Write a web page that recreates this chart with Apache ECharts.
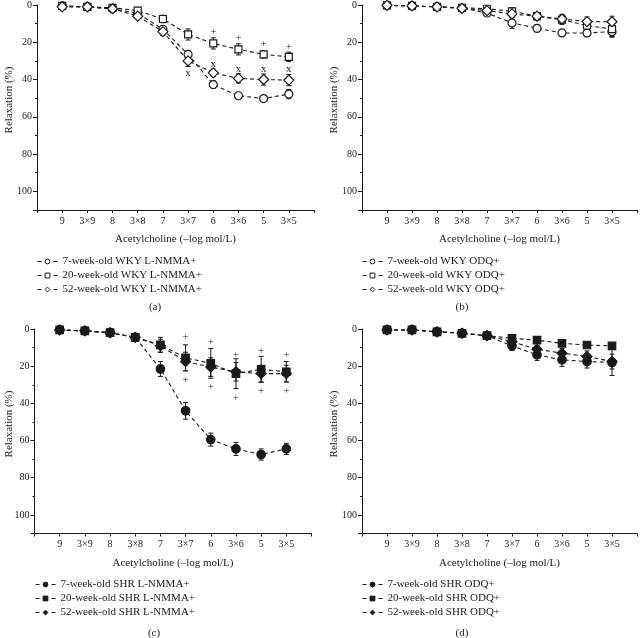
<!DOCTYPE html>
<html>
<head>
<meta charset="utf-8">
<script src="https://cdn.jsdelivr.net/npm/echarts@6/dist/echarts.min.js"></script>
<style>html,body{margin:0;padding:0;background:#fff}#c{width:640px;height:638px}</style>
</head>
<body>
<div id="c"></div>
<script>
// ---- data ----
const xTickLabels = ['9', '3\u00d79', '8', '3\u00d78', '7', '3\u00d77', '6', '3\u00d76', '5', '3\u00d75'];
const xName = 'Acetylcholine (\u2013log mol/L)';
const yName = 'Relaxation (%)';

// (a) WKY L-NMMA+
const wky7L = [0.5, 1, 2, 4.5, 13, 26.5, 42.7, 48.7, 50.2, 47.8];
const wky7LErr = [0.5, 0.5, 0.5, 1, 1.5, 2, 2, 1.5, 1.5, 2.5];
const wky20L = [0.5, 1, 1.5, 3, 7.5, 15.8, 20.6, 23.8, 26.5, 27.8];
const wky20LErr = [0.5, 0.5, 0.5, 1, 2, 3, 3, 3, 2, 2.5];
const wky52L = [1, 1, 2, 6, 14.3, 30, 36.4, 39.4, 40, 40.3];
const wky52LErr = [0.5, 0.5, 0.5, 1, 2, 3, 2, 2.5, 3, 3];
const aPlusX = [7, 8, 9, 10];
const aPlusY = [14.7, 18, 21, 22.4];
const aCrossX = [6, 7, 8, 9, 10];
const aCrossY = [36.4, 31.7, 34.4, 34.4, 34.4];

// (b) WKY ODQ+
const wky7O = [0.2, 0.5, 1, 1.6, 4.3, 9.6, 12.5, 15, 15, 14.3];
const wky7OErr = [0.5, 0.5, 0.5, 1, 1.5, 3, 2, 1.5, 2, 3];
const wky20O = [0.2, 0.5, 1, 1.5, 2, 3.4, 6, 7.9, 11, 12.9];
const wky20OErr = [0.5, 0.5, 0.5, 1, 1, 2, 2, 2.5, 2.5, 4];
const wky52O = [0.2, 0.5, 1, 1.8, 3, 4.8, 6, 7.5, 8.9, 9];
const wky52OErr = [0.5, 0.5, 0.5, 1, 1, 2, 2, 2.5, 2.5, 3];

// (c) SHR L-NMMA+
const shr7L = [0.5, 1, 2, 4.5, 21.5, 44, 59.5, 64.5, 67.5, 64.5];
const shr7LErr = [0.5, 0.5, 0.5, 1, 4, 4.5, 3.5, 3.5, 3, 3];
const shr20L = [0.5, 1, 2, 4.5, 8.5, 15.5, 18.5, 24, 21.7, 23];
const shr20LErr = [0.5, 0.5, 0.5, 1, 4, 7, 8, 8, 7, 5.5];
const shr52L = [0.5, 1, 2, 4.5, 9, 17.5, 20.5, 23, 24, 24];
const shr52LErr = [0.5, 0.5, 1, 1, 3.5, 5, 5, 5, 4.5, 4.5];
const cPlusX = [6, 7, 8, 9, 10, 6, 7, 8, 9, 10];
const cPlusY = [4.5, 7.2, 14, 11.8, 14, 27.4, 31, 37, 33.3, 33.3];

// (d) SHR ODQ+
const shr7O = [0.5, 0.5, 1.5, 2.3, 3.6, 9.1, 13.9, 16.6, 17.5, 18];
const shr7OErr = [0.5, 0.5, 0.5, 1, 1, 2.5, 3, 3.5, 3.5, 7];
const shr20O = [0.5, 0.5, 1.5, 2.3, 3.6, 5, 6, 7.7, 8.6, 9.1];
const shr20OErr = [0.5, 0.5, 0.5, 0.5, 1, 1, 1, 1, 1, 1];
const shr52O = [0.5, 0.5, 1.5, 2.3, 3.6, 6.8, 10.9, 13, 14.8, 17.5];
const shr52OErr = [0.5, 0.5, 0.5, 1, 1, 2, 2, 2.5, 3, 4];

// ---- layout / style ----
const FONT = 'Liberation Serif';
const INK = '#1a1a1a';
const grids = [
  {left: 37, top: 5, width: 277, height: 205},
  {left: 362, top: 5, width: 277, height: 205},
  {left: 34.5, top: 329, width: 277, height: 204.5},
  {left: 362, top: 329, width: 277, height: 204.5}
];

function xAxisFor(i) {
  return {
    type: 'value', gridIndex: i, min: 0, max: 11, interval: 1,
    name: xName, nameLocation: 'middle', nameGap: 24,
    nameTextStyle: {fontFamily: FONT, fontSize: 11, color: INK},
    axisLine: {onZero: false, lineStyle: {color: INK, width: 1}},
    axisTick: {show: true, length: 3, lineStyle: {color: INK}},
    axisLabel: {
      margin: 6, fontFamily: FONT, fontSize: 10, color: INK,
      formatter: v => (v >= 1 && v <= 10) ? xTickLabels[v - 1] : ''
    },
    splitLine: {show: false}
  };
}
function yAxisFor(i) {
  return {
    type: 'value', gridIndex: i, min: 0, max: 110, interval: 20, inverse: true,
    axisLine: {show: true, onZero: false, lineStyle: {color: INK, width: 1}},
    axisTick: {show: true, length: 4, lineStyle: {color: INK}},
    minorTick: {show: true, splitNumber: 2, length: 2, lineStyle: {color: INK}},
    axisLabel: {
      margin: 5, fontFamily: FONT, fontSize: 10, color: INK,
      formatter: v => (v <= 100 ? String(v) : '')
    },
    splitLine: {show: false}
  };
}

const series = [];
function addGroup(gi, name, vals, errs, symbol, size, filled) {
  series.push({
    type: 'custom', xAxisIndex: gi, yAxisIndex: gi, z: 1, silent: true,
    data: vals.map((v, k) => [k + 1, v - errs[k], v + errs[k]]),
    renderItem: (params, api) => {
      const x = api.value(0);
      const p1 = api.coord([x, api.value(1)]);
      const p2 = api.coord([x, api.value(2)]);
      const w = 2.5;
      const st = {stroke: INK, lineWidth: 1};
      return {type: 'group', children: [
        {type: 'line', shape: {x1: p1[0], y1: p1[1], x2: p2[0], y2: p2[1]}, style: st},
        {type: 'line', shape: {x1: p1[0] - w, y1: p1[1], x2: p1[0] + w, y2: p1[1]}, style: st},
        {type: 'line', shape: {x1: p2[0] - w, y1: p2[1], x2: p2[0] + w, y2: p2[1]}, style: st}
      ]};
    }
  });
  series.push({
    type: 'line', name: name, xAxisIndex: gi, yAxisIndex: gi, z: 3,
    data: vals.map((v, k) => [k + 1, v]),
    symbol: symbol, symbolSize: size, showAllSymbol: true,
    lineStyle: {color: INK, width: 1.1, type: [4, 3]},
    itemStyle: {color: filled ? INK : '#fff', borderColor: INK, borderWidth: 1.2},
    emphasis: {disabled: true}
  });
}
function addText(gi, xs, ys, txt) {
  series.push({
    type: 'custom', xAxisIndex: gi, yAxisIndex: gi, z: 4, silent: true,
    data: xs.map((x, k) => [x, ys[k]]),
    renderItem: (params, api) => {
      const p = api.coord([api.value(0), api.value(1)]);
      return {type: 'text', x: p[0], y: p[1],
        style: {text: txt, fill: INK, font: '11px ' + FONT, align: 'center', verticalAlign: 'middle'}};
    }
  });
}

const names = [
  ['7-week-old WKY L-NMMA+', '20-week-old WKY L-NMMA+', '52-week-old WKY L-NMMA+'],
  ['7-week-old WKY ODQ+', '20-week-old WKY ODQ+', '52-week-old WKY ODQ+'],
  ['7-week-old SHR L-NMMA+', '20-week-old SHR L-NMMA+', '52-week-old SHR L-NMMA+'],
  ['7-week-old SHR ODQ+', '20-week-old SHR ODQ+', '52-week-old SHR ODQ+']
];

addGroup(0, names[0][0], wky7L, wky7LErr, 'circle', 8, false);
addGroup(0, names[0][1], wky20L, wky20LErr, 'rect', 7, false);
addGroup(0, names[0][2], wky52L, wky52LErr, 'diamond', 10, false);
addText(0, aPlusX, aPlusY, '+');
addText(0, aCrossX, aCrossY, 'x');

addGroup(1, names[1][0], wky7O, wky7OErr, 'circle', 8, false);
addGroup(1, names[1][1], wky20O, wky20OErr, 'rect', 7, false);
addGroup(1, names[1][2], wky52O, wky52OErr, 'diamond', 10, false);

addGroup(2, names[2][0], shr7L, shr7LErr, 'circle', 8.5, true);
addGroup(2, names[2][1], shr20L, shr20LErr, 'rect', 7.5, true);
addGroup(2, names[2][2], shr52L, shr52LErr, 'diamond', 10, true);
addText(2, cPlusX, cPlusY, '+');

addGroup(3, names[3][0], shr7O, shr7OErr, 'circle', 8.5, true);
addGroup(3, names[3][1], shr20O, shr20OErr, 'rect', 7.5, true);
addGroup(3, names[3][2], shr52O, shr52OErr, 'diamond', 10, true);

const legendPos = [
  {left: 37, top: 256}, {left: 362, top: 256},
  {left: 35, top: 579}, {left: 362, top: 579}
];
const legends = names.map((n, i) => ({
  data: n, orient: 'vertical', left: legendPos[i].left, top: legendPos[i].top,
  itemWidth: 20, itemHeight: 6, itemGap: 3, padding: 0, selectedMode: false,
  lineStyle: {width: 1, type: [4, 12]},
  itemStyle: {borderWidth: 1},
  textStyle: {fontFamily: FONT, fontSize: 11, color: INK}
}));

const panelLabels = [['(a)', 155, 307], ['(b)', 462, 307], ['(c)', 154, 633], ['(d)', 462, 633]];
const yNamePos = [[9, 100], [334, 100], [9, 424], [334, 424]];
const graphics = [];
panelLabels.forEach(p => graphics.push({type: 'text', x: p[1], y: p[2],
  style: {text: p[0], fill: INK, font: '11px ' + FONT, align: 'center', verticalAlign: 'middle'}}));
yNamePos.forEach(p => graphics.push({type: 'text', x: p[0], y: p[1], rotation: Math.PI / 2,
  style: {text: yName, fill: INK, font: '11px ' + FONT, align: 'center', verticalAlign: 'middle'}}));

const chart = echarts.init(document.getElementById('c'), null, {renderer: 'canvas'});
chart.setOption({
  animation: false,
  backgroundColor: '#fff',
  grid: grids,
  xAxis: [0, 1, 2, 3].map(xAxisFor),
  yAxis: [0, 1, 2, 3].map(yAxisFor),
  legend: legends,
  graphic: graphics,
  series: series
});
</script>
</body>
</html>
